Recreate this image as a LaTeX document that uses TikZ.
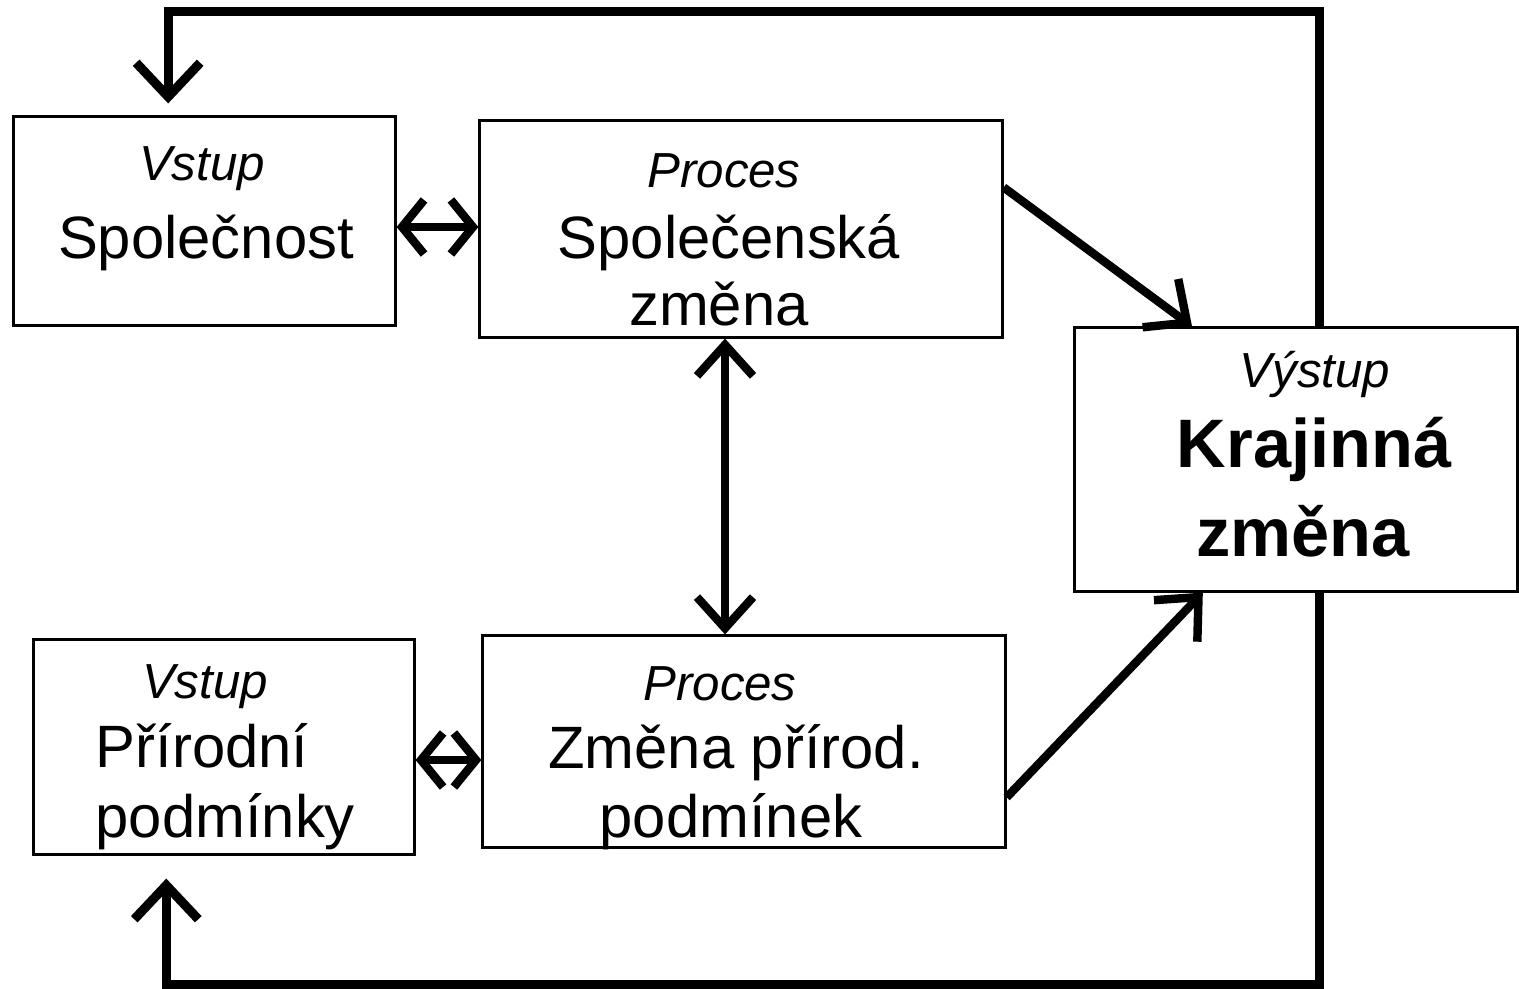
\documentclass[tikz,border=0pt]{standalone}
\usepackage{fontspec}
\setmainfont{Liberation Sans}
\usetikzlibrary{arrows.meta}

\begin{document}
\begin{tikzpicture}[x=0.01cm, y=-0.01cm,
	box/.style={draw, line width=0.85pt, inner sep=0pt},
	big/.style={font=\fontsize{17}{20}\selectfont, anchor=base, inner sep=0pt},
	small/.style={font=\fontsize{14}{17}\selectfont\itshape, anchor=base, inner sep=0pt},
	strong/.style={font=\fontsize{19.5}{22}\selectfont\bfseries, anchor=base, inner sep=0pt},
	link/.style={line width=2.4pt, -{Straight Barb[length=3.3mm, width=6mm]}},
	twoway/.style={line width=2.4pt, {Straight Barb[length=3.1mm, width=5.6mm]}-{Straight Barb[length=3.1mm, width=5.6mm]}},
	shortway/.style={line width=2.4pt, {Straight Barb[length=2.2mm, width=5.4mm]}-{Straight Barb[length=2.2mm, width=5.4mm]}},
	loopline/.style={line width=2.6pt, -{Straight Barb[length=3.4mm, width=6.4mm]}}]
		\useasboundingbox (0,0) rectangle (1519,988);

		% Boxes
		\node[box, minimum width=3.81cm, minimum height=2.08cm] (vstupA) at (204.5,221) {};
		\node[box, minimum width=5.22cm, minimum height=2.16cm] (procesB) at (741,229) {};
		\node[box, minimum width=4.42cm, minimum height=2.63cm] (krajC) at (1296,459.5) {};
		\node[box, minimum width=3.80cm, minimum height=2.14cm] (vstupD) at (224,747) {};
		\node[box, minimum width=5.22cm, minimum height=2.11cm] (procesE) at (744,741.5) {};

		% Texts
		\node[small] (tA1) at (202,180) {Vstup};
		\node[big] (tA2) at (206,258) {Společnost};

		\node[small] (tB1) at (724,188) {Proces};
		\node[big] (tB2) at (729,258) {Společenská};
		\node[big] (tB3) at (719,325) {změna};

		\node[small] (tC1) at (1315,387) {Výstup};
		\node[strong] (tC2) at (1314,467) {Krajinná};
		\node[strong] (tC3) at (1303,556) {změna};

		\node[small] (tD1) at (205,698) {Vstup};
		\node[big, anchor=base west] (tD2) at (95,767) {Přírodní};
		\node[big, anchor=base west] (tD3) at (95,837) {podmínky};

		\node[small] (tE1) at (720,700) {Proces};
		\node[big] (tE2) at (736,768) {Změna přírod.};
		\node[big] (tE3) at (731,837) {podmínek};

		% Helper levels
		\coordinate (mid) at (725,0);
		\coordinate (alink) at (0,227);
		\coordinate (dlink) at (0,760);

		% Two-way links
		\draw[shortway] (vstupA.east |- alink) -- (procesB.west |- alink);
		\draw[twoway] (procesB.south -| mid) -- (procesE.north -| mid);
		\draw[shortway] (vstupD.east |- dlink) -- (procesE.west |- dlink);

		% Into the output
		\draw[link] (procesB.9.6) -- (krajC.128.9);
		\draw[link] (procesE.-12) -- (krajC.235.3);

		% Feedback loops
		\draw[loopline, shorten >=0.12cm] (krajC.80.9) -- ++(0,-315) -| (vstupA.109.3);
		\draw[loopline, shorten >=0.23cm] (krajC.-80.9) -- ++(0,392) -| (vstupD.242);

	\end{tikzpicture}
\end{document}
